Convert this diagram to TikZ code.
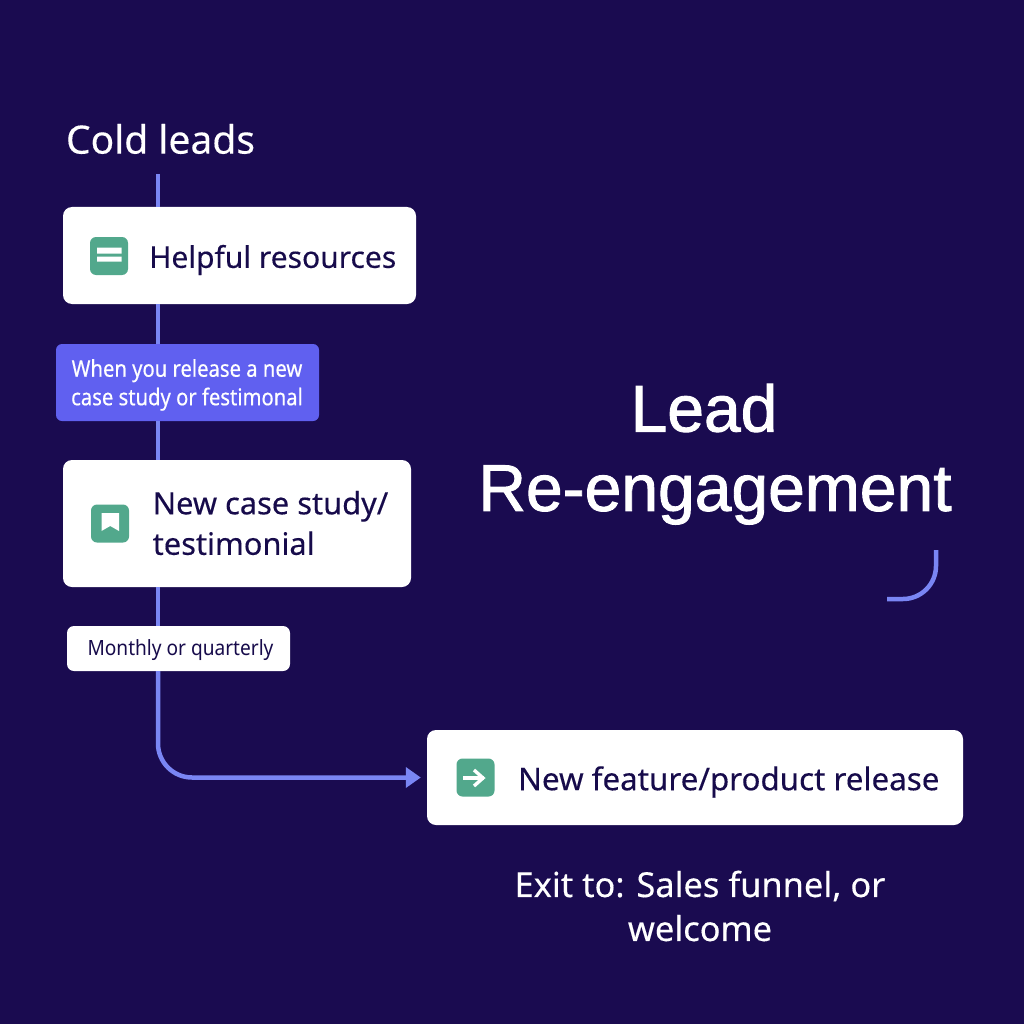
\documentclass[tikz,border=0pt]{standalone}
\usepackage{fontspec}
\setmainfont{Noto Sans}[FakeBold=0.25]
\newfontfamily\titlefont{Liberation Sans}[FakeBold=1.4]
\newfontfamily\whenfont{Noto Sans}[FakeStretch=0.88,FakeBold=0.4]
\newfontfamily\monthfont{Noto Sans}[FakeStretch=0.91]
\usetikzlibrary{arrows.meta}
\definecolor{bgc}{HTML}{1A0B50}
\definecolor{flowc}{HTML}{7A86F4}
\definecolor{inkc}{HTML}{170B4B}
\definecolor{iconc}{HTML}{52A88C}
\definecolor{purplec}{HTML}{6060F0}
\tikzset{
  flow/.style={draw=flowc,line width=4.5pt},
  cardbox/.style={fill=white,rounded corners=9pt,inner sep=0pt},
  iconbox/.style={fill=iconc,rounded corners=6pt,inner sep=0pt,minimum width=38pt,minimum height=38pt},
  cardtext/.style={text=inkc,anchor=west,inner sep=0pt,align=left,font=\fontsize{30.8}{40.5}\selectfont},
  lighttext/.style={text=white,inner sep=0pt,align=center},
}
\begin{document}
\begin{tikzpicture}[x=1pt,y=-1pt]
\useasboundingbox (0,0) rectangle (1024,1024);
\fill[bgc] (0,0) rectangle (1024,1024);
\coordinate (spine) at (158,174);
\node[cardbox,minimum width=353pt,minimum height=97pt] (helpful) at (239.5,255.5) {};
\node[cardbox,fill=purplec,rounded corners=6pt,minimum width=263pt,minimum height=77pt] (when) at (187.5,382.5) {};
\node[cardbox,minimum width=348pt,minimum height=127pt] (case) at (237,523.5) {};
\node[cardbox,rounded corners=7pt,minimum width=223pt,minimum height=45pt] (monthly) at (178.5,648.5) {};
\node[cardbox,minimum width=536pt,minimum height=95pt] (feature) at (695,777.5) {};
\draw[flow] (spine) -- (helpful.north -| spine);
\draw[flow] (helpful.south -| spine) -- (when.north -| spine);
\draw[flow] (when.south -| spine) -- (case.north -| spine);
\draw[flow] (case.south -| spine) -- (monthly.north -| spine);
\draw[flow,rounded corners=34pt,-{Triangle[length=15pt,width=20pt]},shorten >=6pt] (monthly.south -| spine) |- (feature.west);
\node[lighttext,font=\fontsize{39}{46}\selectfont] (cold) at (160.5,139) {Cold leads};
\node[iconbox] (icona) at (109,256) {};
\fill[white] (97,247.5) rectangle (121.5,253.5) (97,256.5) rectangle (121.5,261.5);
\node[cardtext,font=\fontsize{30}{40.5}\selectfont] (helpfultext) at (149,260) {Helpful resources};
\node[lighttext,font=\whenfont\fontsize{23}{28.5}\selectfont] (whentext) at (187,385) {When you release a new\\case study or festimonal};
\node[iconbox] (iconb) at (110,523.5) {};
\fill[white] (101.5,513) -- (119,513) -- (119,531) -- (110.2,526) -- (101.5,531) -- cycle;
\node[cardtext] (casetext) at (152.5,523) {New case study/\\testimonial};
\node[text=inkc,inner sep=0pt,font=\monthfont\fontsize{21}{26}\selectfont] (monthlytext) at (180.5,650) {Monthly or quarterly};
\node[iconbox] (iconc) at (475.5,777.5) {};
\draw[white,line width=3.4pt] (463,778) -- (484,778);
\draw[white,line width=3.4pt] (474,770) -- (483,778) -- (474,786);
\node[cardtext,font=\fontsize{31.3}{40}\selectfont] (featuretext) at (518,782) {New feature/product release};
\node[lighttext,font=\titlefont\fontsize{66}{80}\selectfont] (lead) at (704,408) {Lead};
\node[lighttext,font=\titlefont\fontsize{66}{80}\selectfont] (reeng) at (715,495) {Re-engagement};
\draw[flow,rounded corners=33pt] (936,550) -- (936,599) -- (887,599);
\node[lighttext,font=\fontsize{34.4}{44}\selectfont] (exit) at (700,906) {Exit to: Sales funnel, or\\welcome};
\end{tikzpicture}
\end{document}
